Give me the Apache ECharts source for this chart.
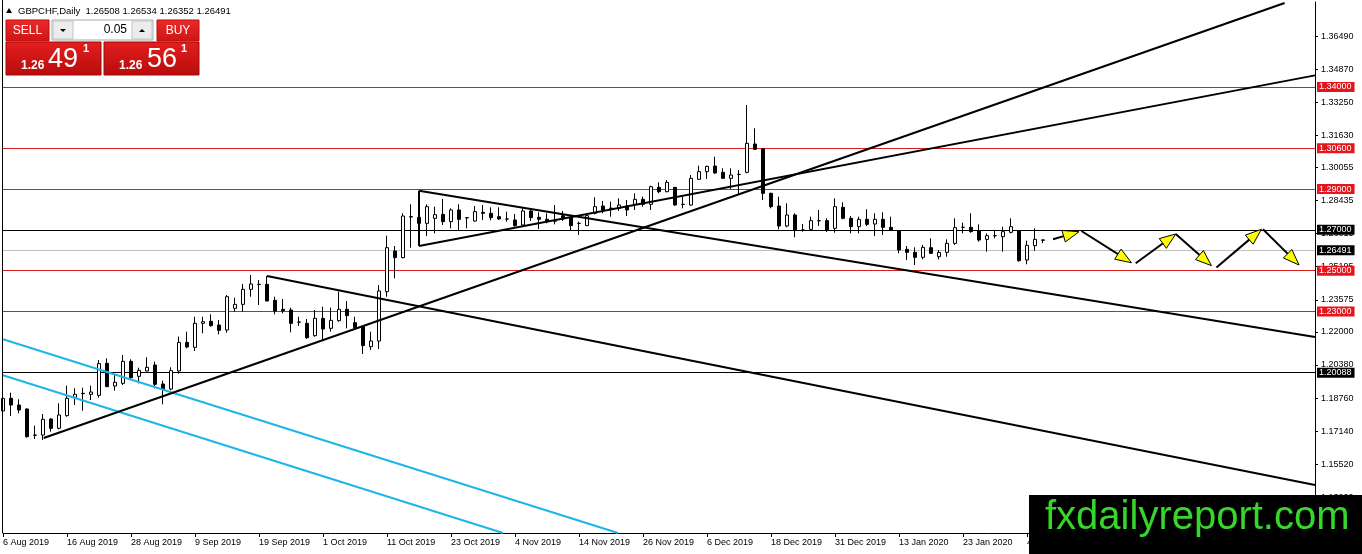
<!DOCTYPE html>
<html>
<head>
<meta charset="utf-8">
<script src="https://cdn.jsdelivr.net/npm/echarts@6/dist/echarts.min.js"></script>
<style>html,body{margin:0;padding:0;background:#fff}#c{width:1362px;height:554px}</style>
</head>
<body>
<div id="c"></div>
<script>
// ---- data ----
const open  = [1.18126,1.18746,1.18419,1.18223,1.16949,1.16949,1.17733,1.17276,1.17897,1.18795,1.18975,1.18942,1.18893,1.20461,1.19350,1.19481,1.20559,1.19824,1.20085,1.20379,1.19448,1.19203,1.20085,1.21490,1.21245,1.22421,1.22519,1.22339,1.22094,1.23156,1.23352,1.24087,1.24320,1.24332,1.23548,1.23107,1.23074,1.22486,1.22421,1.21816,1.22666,1.22176,1.22551,1.23107,1.22453,1.22257,1.21278,1.21555,1.23972,1.25965,1.25638,1.27647,1.27614,1.27320,1.27565,1.27761,1.27402,1.27974,1.27598,1.27435,1.27859,1.27810,1.27647,1.27533,1.27484,1.27239,1.27925,1.27614,1.27516,1.27435,1.27696,1.27598,1.27320,1.27206,1.27810,1.28169,1.28055,1.28055,1.28169,1.28251,1.28496,1.28251,1.29084,1.28872,1.29084,1.28251,1.28218,1.29476,1.29852,1.30129,1.29819,1.29525,1.29721,1.29819,1.31207,1.30962,1.28790,1.28170,1.27190,1.27729,1.26994,1.27026,1.27451,1.27451,1.27075,1.28104,1.27565,1.27157,1.27516,1.27288,1.27516,1.27124,1.26945,1.26046,1.25899,1.25654,1.26128,1.25687,1.25899,1.26340,1.27124,1.27124,1.26961,1.26536,1.26716,1.26667,1.26879,1.26945,1.25524,1.26226,1.26508];
const close = [1.18746,1.18419,1.18174,1.16868,1.16940,1.17717,1.17276,1.17930,1.18746,1.18942,1.18991,1.19056,1.20445,1.19318,1.19530,1.20559,1.19759,1.20118,1.20265,1.19432,1.19203,1.20102,1.21490,1.21261,1.22421,1.22502,1.22306,1.22078,1.23727,1.23352,1.24087,1.24348,1.24332,1.23515,1.23025,1.23041,1.22421,1.22480,1.21718,1.22666,1.22143,1.22568,1.23107,1.22796,1.22208,1.21327,1.21555,1.24005,1.26128,1.25638,1.27680,1.27630,1.27320,1.28137,1.27745,1.27402,1.27974,1.27516,1.27590,1.27892,1.27810,1.27598,1.27533,1.27528,1.27206,1.27925,1.27598,1.27516,1.27402,1.27430,1.27533,1.27206,1.27315,1.27696,1.28137,1.27974,1.28060,1.28218,1.27974,1.28496,1.28251,1.29117,1.28872,1.29329,1.28218,1.28246,1.29525,1.29852,1.30113,1.29786,1.29525,1.29688,1.29716,1.31240,1.30946,1.28790,1.28137,1.27190,1.27729,1.26994,1.26990,1.27451,1.27447,1.26994,1.28137,1.27565,1.27157,1.27516,1.27271,1.27516,1.27124,1.26994,1.26014,1.25899,1.25654,1.26144,1.25850,1.25899,1.26340,1.27108,1.27128,1.26912,1.26504,1.26716,1.26712,1.26912,1.27157,1.25491,1.26242,1.26536,1.26491];
const low   = [1.17930,1.17880,1.18011,1.16819,1.16754,1.16705,1.17112,1.17227,1.17848,1.18419,1.18142,1.18664,1.18779,1.19301,1.19122,1.19399,1.19644,1.19481,1.20070,1.19236,1.18452,1.19138,1.19955,1.21196,1.21065,1.21931,1.22257,1.21882,1.21963,1.22992,1.22992,1.23727,1.23319,1.23500,1.22862,1.22911,1.21980,1.22290,1.21653,1.21767,1.21604,1.22012,1.22502,1.22176,1.22094,1.20918,1.21114,1.21163,1.23727,1.24626,1.25605,1.26128,1.26830,1.26700,1.26830,1.27239,1.27075,1.26945,1.27075,1.27402,1.27484,1.27467,1.27484,1.27402,1.27157,1.27206,1.27435,1.27043,1.27320,1.27271,1.27435,1.26945,1.26749,1.27190,1.27761,1.27810,1.27647,1.27925,1.27680,1.27974,1.28137,1.27974,1.28790,1.28839,1.28186,1.28055,1.28186,1.29443,1.29492,1.29754,1.29492,1.28999,1.28741,1.29770,1.30913,1.28463,1.28055,1.27026,1.27124,1.26634,1.26912,1.26994,1.27190,1.26896,1.26863,1.27516,1.26830,1.26830,1.27190,1.26700,1.26749,1.26961,1.25850,1.25524,1.25279,1.25556,1.25818,1.25556,1.25687,1.26259,1.26830,1.26863,1.26422,1.25932,1.26585,1.25932,1.26830,1.25442,1.25312,1.25981,1.26352];
const high  = [1.19481,1.19024,1.18697,1.18256,1.17407,1.17979,1.17766,1.18501,1.19367,1.19236,1.19269,1.19367,1.20624,1.20706,1.19889,1.20869,1.20657,1.20249,1.20755,1.20543,1.19612,1.20265,1.21768,1.22012,1.22747,1.22747,1.22862,1.22584,1.23809,1.23678,1.24348,1.24789,1.24544,1.24740,1.23727,1.23613,1.23188,1.22747,1.22633,1.23074,1.23237,1.23188,1.23972,1.23515,1.22747,1.22306,1.22012,1.24299,1.26716,1.26210,1.27810,1.28251,1.28137,1.28251,1.28137,1.28513,1.28055,1.28251,1.27631,1.28169,1.28218,1.28104,1.28104,1.27892,1.27778,1.28055,1.28055,1.27859,1.27810,1.28218,1.27925,1.27647,1.27402,1.27729,1.28594,1.28414,1.28382,1.28545,1.28463,1.28790,1.28627,1.29166,1.29329,1.29443,1.29100,1.28627,1.29688,1.30146,1.30146,1.30587,1.30015,1.30015,1.29933,1.33118,1.31975,1.30995,1.28823,1.28627,1.28300,1.27810,1.27288,1.27647,1.27973,1.27565,1.28545,1.28349,1.27680,1.27647,1.28006,1.27810,1.27859,1.27647,1.26994,1.26210,1.26144,1.26259,1.26585,1.26014,1.26536,1.27565,1.27353,1.27810,1.27271,1.26830,1.26994,1.27157,1.27565,1.26994,1.26471,1.27075,1.26534];

const dateTickLabels = ['6 Aug 2019','16 Aug 2019','28 Aug 2019','9 Sep 2019','19 Sep 2019','1 Oct 2019','11 Oct 2019','23 Oct 2019','4 Nov 2019','14 Nov 2019','26 Nov 2019','6 Dec 2019','18 Dec 2019','31 Dec 2019','13 Jan 2020','23 Jan 2020','4 Feb 2020'];
const priceTickLabels = [1.36490,1.34870,1.33250,1.31630,1.30055,1.28435,1.26815,1.25195,1.23575,1.22000,1.20380,1.18760,1.17140,1.15520,1.13900];

const redLevels = [1.34000,1.30600,1.29000,1.25000,1.23000];
const blackLevels = [1.27000,1.20088];
const currentPrice = 1.26491;

// trend lines: [barIndex1, price1, barIndex2, price2]
const blackTrendLines = [
  [5.09,1.16803,160.2,1.38116],
  [52.0,1.26210,164.0,1.34570],
  [52.0,1.28919,164.0,1.21751],
  [52.0,1.28919,52.0,1.26210],
  [33.0,1.24740,164.0,1.14500]
];
const cyanTrendLines = [
  [0,1.21638,76.88,1.12148],
  [0,1.19875,62.5,1.12148]
];
// projected path arrows
const arrowSegments = [
  [131.25,1.26538,134.5,1.26910],
  [134.8,1.26945,141.05,1.25391],
  [141.59,1.25362,146.59,1.26798],
  [146.59,1.26798,151.05,1.25247],
  [151.68,1.25151,157.3,1.27028],
  [157.5,1.27028,162.0,1.25279]
];

const headerText = 'GBPCHF,Daily  1.26508 1.26534 1.26352 1.26491';

// ---- chart ----
const Y_MIN = 1.12148, Y_MAX = 1.38165, X_SLOTS = 165;
const FONT = '"Liberation Sans", Arial, sans-serif';
const categories = Array.from({length: X_SLOTS}, (_, i) => String(i));
const ohlc = open.map((o, i) => [o, close[i], low[i], high[i]]);

function levelLine(v, lineColor, boxColor) {
  return {
    yAxis: v,
    lineStyle: {color: lineColor, width: 1, type: 'solid'},
    label: {show: true, position: 'end', distance: 2, formatter: v.toFixed(5),
      backgroundColor: boxColor, color: '#fff', fontSize: 9, fontFamily: FONT,
      padding: [1, 3, 0, 2], lineHeight: 9}
  };
}

const lineSeries = [];
blackTrendLines.forEach(l => lineSeries.push({
  type: 'line', xAxisIndex: 1, yAxisIndex: 0, data: [[l[0], l[1]], [l[2], l[3]]],
  symbol: 'none', silent: true, z: 5, lineStyle: {color: '#000', width: 2}
}));
cyanTrendLines.forEach(l => lineSeries.push({
  type: 'line', xAxisIndex: 1, yAxisIndex: 0, data: [[l[0], l[1]], [l[2], l[3]]],
  symbol: 'none', silent: true, z: 4, lineStyle: {color: '#1cb6e8', width: 2}
}));

const redGrad = (a, b) => new echarts.graphic.LinearGradient(0, 0, 0, 1, [{offset: 0, color: a}, {offset: 1, color: b}]);

const chart = echarts.init(document.getElementById('c'), null, {renderer: 'canvas'});
chart.setOption({
  animation: false,
  backgroundColor: '#fff',
  grid: {left: 3, right: 47, top: 2, bottom: 21},
  xAxis: [
    {type: 'category', data: categories, boundaryGap: false,
     axisLine: {onZero: false, lineStyle: {color: '#000', width: 1}},
     axisTick: {interval: 7, length: 4, lineStyle: {color: '#000'}},
     axisLabel: {interval: 7, align: 'left', margin: 5, fontSize: 9, color: '#000', fontFamily: FONT,
       formatter: (v, idx) => (idx % 8 === 0 && dateTickLabels[idx / 8]) ? dateTickLabels[idx / 8] : ''},
     splitLine: {show: false}},
    {type: 'value', min: 0, max: X_SLOTS - 1, show: false, axisLine: {onZero: false}}
  ],
  yAxis: [
    {type: 'value', position: 'right', min: Y_MIN, max: Y_MAX,
     axisLine: {show: true, onZero: false, lineStyle: {color: '#000', width: 1}},
     axisTick: {show: true, customValues: priceTickLabels, length: 3, lineStyle: {color: '#000'}},
     axisLabel: {customValues: priceTickLabels, formatter: v => v.toFixed(5), fontSize: 9, color: '#000', fontFamily: FONT, margin: 6},
     splitLine: {show: false}}
  ],
  series: [
    {type: 'candlestick', xAxisIndex: 0, yAxisIndex: 0, data: ohlc, barWidth: 4, z: 3, silent: true,
     itemStyle: {color: '#fff', color0: '#000', borderColor: '#000', borderColor0: '#000', borderColorDoji: '#000', borderWidth: 1},
     markLine: {symbol: ['none', 'none'], silent: true, animation: false, z: 2,
       data: [
         ...redLevels.map(v => levelLine(v, '#d81e1e', '#e8141c')),
         ...blackLevels.map(v => levelLine(v, '#000', '#000')),
         levelLine(currentPrice, '#c0c0c0', '#000')
       ]}},
    ...lineSeries,
    {type: 'custom', xAxisIndex: 1, yAxisIndex: 0, data: arrowSegments, z: 6, silent: true,
     encode: {x: [0, 2], y: [1, 3]},
     renderItem: (params, api) => {
       const a = api.coord([api.value(0), api.value(1)]);
       const b = api.coord([api.value(2), api.value(3)]);
       const dx = b[0] - a[0], dy = b[1] - a[1], len = Math.hypot(dx, dy);
       const ux = dx / len, uy = dy / len, L = 16, W = 6;
       const base = [b[0] - ux * L, b[1] - uy * L];
       return {type: 'group', children: [
         {type: 'line', shape: {x1: a[0], y1: a[1], x2: base[0] + ux * 2, y2: base[1] + uy * 2}, style: {stroke: '#000', lineWidth: 2}},
         {type: 'polygon', shape: {points: [b, [base[0] - uy * W, base[1] + ux * W], [base[0] + uy * W, base[1] - ux * W]]},
          style: {fill: '#ffff00', stroke: '#000', lineWidth: 1}}
       ]};
     }}
  ],
  graphic: [
    // left frame line of the chart window
    {type: 'line', shape: {x1: 2.5, y1: 0, x2: 2.5, y2: 533}, style: {stroke: '#000', lineWidth: 1}, z: 40},
    // header
    {type: 'polygon', shape: {points: [[6, 13], [12, 13], [9, 8]]}, style: {fill: '#000'}, z: 50},
    {type: 'text', x: 18, y: 11, style: {text: headerText, fill: '#000', font: '9.5px ' + FONT, align: 'left', verticalAlign: 'middle'}, z: 50},
    // SELL / BUY buttons
    {type: 'rect', shape: {x: 6, y: 20, width: 43, height: 21}, style: {fill: redGrad('#ec2a2a', '#cf1414'), stroke: '#b80e0e', lineWidth: 1}, z: 50},
    {type: 'text', x: 27.5, y: 31, style: {text: 'SELL', fill: '#fff', font: '12px ' + FONT, align: 'center', verticalAlign: 'middle'}, z: 51},
    {type: 'rect', shape: {x: 157, y: 20, width: 42, height: 21}, style: {fill: redGrad('#ec2a2a', '#cf1414'), stroke: '#b80e0e', lineWidth: 1}, z: 50},
    {type: 'text', x: 178, y: 31, style: {text: 'BUY', fill: '#fff', font: '12px ' + FONT, align: 'center', verticalAlign: 'middle'}, z: 51},
    // lot spinner
    {type: 'rect', shape: {x: 52, y: 20, width: 101, height: 20}, style: {fill: '#fff', stroke: '#a8a8a8', lineWidth: 1}, z: 50},
    {type: 'rect', shape: {x: 53, y: 21, width: 20, height: 18}, style: {fill: '#ececec', stroke: '#c4c4c4', lineWidth: 1}, z: 51},
    {type: 'polygon', shape: {points: [[60, 29], [66, 29], [63, 32]]}, style: {fill: '#000'}, z: 52},
    {type: 'rect', shape: {x: 132, y: 21, width: 20, height: 18}, style: {fill: '#ececec', stroke: '#c4c4c4', lineWidth: 1}, z: 51},
    {type: 'polygon', shape: {points: [[139, 32], [145, 32], [142, 29]]}, style: {fill: '#000'}, z: 52},
    {type: 'text', x: 127, y: 30, style: {text: '0.05', fill: '#000', font: '12px ' + FONT, align: 'right', verticalAlign: 'middle'}, z: 51},
    // price boxes
    {type: 'rect', shape: {x: 6, y: 42, width: 95, height: 33}, style: {fill: redGrad('#e41e1e', '#b80c0c'), stroke: '#a00808', lineWidth: 1}, z: 50},
    {type: 'rect', shape: {x: 104, y: 42, width: 95, height: 33}, style: {fill: redGrad('#e41e1e', '#b80c0c'), stroke: '#a00808', lineWidth: 1}, z: 50},
    {type: 'text', x: 21, y: 66, style: {text: '1.26', fill: '#fff', font: 'bold 12px ' + FONT, align: 'left', verticalAlign: 'middle'}, z: 51},
    {type: 'text', x: 48, y: 60, style: {text: '49', fill: '#fff', font: '27px ' + FONT, align: 'left', verticalAlign: 'middle'}, z: 51},
    {type: 'text', x: 86, y: 49, style: {text: '1', fill: '#fff', font: 'bold 11px ' + FONT, align: 'center', verticalAlign: 'middle'}, z: 51},
    {type: 'text', x: 119, y: 66, style: {text: '1.26', fill: '#fff', font: 'bold 12px ' + FONT, align: 'left', verticalAlign: 'middle'}, z: 51},
    {type: 'text', x: 147, y: 60, style: {text: '56', fill: '#fff', font: '27px ' + FONT, align: 'left', verticalAlign: 'middle'}, z: 51},
    {type: 'text', x: 184, y: 49, style: {text: '1', fill: '#fff', font: 'bold 11px ' + FONT, align: 'center', verticalAlign: 'middle'}, z: 51},
    // watermark logo
    {type: 'rect', shape: {x: 1029, y: 495, width: 333, height: 59}, style: {fill: '#000'}, z: 100},
    {type: 'text', x: 1045, y: 518, style: {text: 'fxdailyreport.com', fill: '#36d62a', font: '40px ' + FONT, align: 'left', verticalAlign: 'middle'}, z: 101}
  ]
});
</script>
</body>
</html>
